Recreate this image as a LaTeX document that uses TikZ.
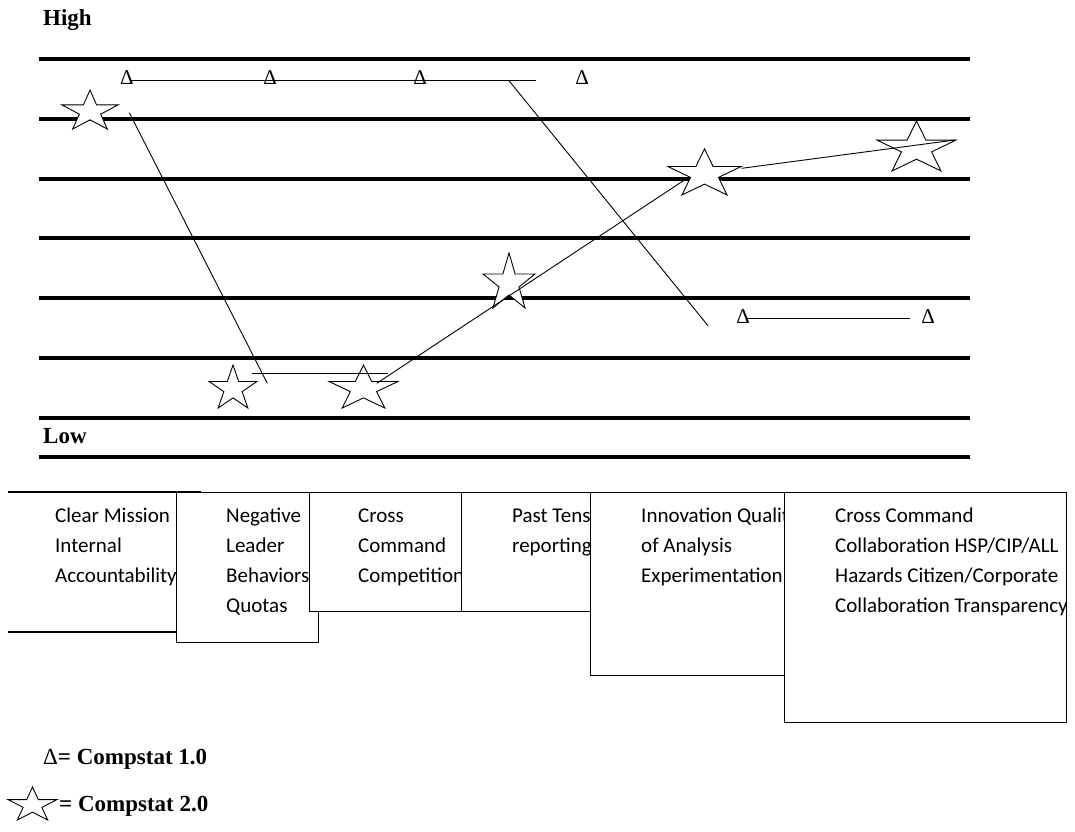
\documentclass[tikz,border=0pt]{standalone}
\usepackage{fontspec}
\setmainfont{Liberation Serif}
\newfontfamily\boxfont{Carlito}
\usetikzlibrary{shapes.geometric}

\tikzset{
  level/.style={line width=3.6pt},
  link/.style={line width=0.9pt},
  tri/.style={anchor=base, inner sep=0pt, font=\fontsize{21}{25}\selectfont},
  starmark/.style={star, star points=5, star point ratio=2.618, draw, fill=white,
    line width=0.9pt, inner sep=0pt, transform shape},
  panel/.style={draw, fill=white, line width=1.1pt, anchor=north west, inner sep=0pt},
  paneltext/.style={anchor=base west, inner sep=0pt, font=\boxfont\fontsize{21}{30}\selectfont},
  title/.style={anchor=base west, inner sep=0pt, font=\fontsize{23}{27}\selectfont\bfseries}
}

\begin{document}
\begin{tikzpicture}[x=1pt, y=-1pt]
    \useasboundingbox (0,0) rectangle (1075,831);

    % scale
    \node[title] (high) at (43,25) {High};
    \node[title] (low) at (43,443) {Low};
    \draw[level] (39,59) -- (970,59);
    \draw[level] (39,119) -- (970,119);
    \draw[level] (39,179) -- (970,179);
    \draw[level] (39,238) -- (970,238);
    \draw[level] (39,298) -- (970,298);
    \draw[level] (39,358) -- (970,358);
    \draw[level] (39,418) -- (970,418);
    \draw[level] (39,457) -- (970,457);

    % compstat 1.0
    \node[tri] (t1) at (127,84) {Δ};
    \node[tri] (t2) at (270,84) {Δ};
    \node[tri] (t3) at (420,84) {Δ};
    \node[tri] (t4) at (582,84) {Δ};
    \node[tri] (t5) at (743,323) {Δ};
    \node[tri] (t6) at (928,323) {Δ};

    \coordinate (top1) at (131,80.7);
    \coordinate (top2) at (536,80.7);
    \coordinate (drop1) at (509,80.7);
    \coordinate (drop2) at (708,325.7);
    \coordinate (low1) at (746,318.3);
    \coordinate (low2) at (910,318.3);
    \draw[link] (top1) -- (top2);
    \draw[link] (drop1) -- (drop2);
    \draw[link] (low1) -- (low2);

    % compstat 2.0
    \node[starmark, minimum size=43.1pt, xscale=1.366] (s1) at (90,111.6) {};
    \node[starmark, minimum size=47.5pt, xscale=1.062] (s2) at (233,388.8) {};
    \node[starmark, minimum size=47.5pt, xscale=1.526] (s3) at (363.5,388.8) {};
    \node[starmark, minimum size=60.8pt, xscale=0.899] (s4) at (509,283.4) {};
    \node[starmark, minimum size=50.9pt, xscale=1.509] (s5) at (704.5,174.4) {};
    \node[starmark, minimum size=55.3pt, xscale=1.503] (s6) at (916.5,148.6) {};

    \coordinate (fall1) at (129.3,112.7);
    \coordinate (fall2) at (267.3,383.3);
    \coordinate (flat1) at (251.7,373.3);
    \coordinate (flat2) at (388.3,373.3);
    \coordinate (rise1) at (376.7,383.3);
    \coordinate (rise2) at (689,177);
    \coordinate (last1) at (741.7,168.3);
    \coordinate (last2) at (955,140);
    \draw[link] (fall1) -- (fall2);
    \draw[link] (flat1) -- (flat2);
    \draw[link] (rise1) -- (rise2);
    \draw[link] (last1) -- (last2);

    % boxes
    \draw[line width=1.1pt] (8,492) -| (200,632) -- (8,632);
    \node[paneltext] (m1) at (55,522) {\begin{tabular}[t]{@{}l@{}}Clear Mission\\Internal\\Accountability\end{tabular}};
    \node[panel, minimum width=142pt, minimum height=150pt] (b2) at (176,492) {};
    \node[paneltext] (m2) at (226,522) {\begin{tabular}[t]{@{}l@{}}Negative\\Leader\\Behaviors\\Quotas\end{tabular}};
    \node[panel, minimum width=152pt, minimum height=119pt] (b3) at (309,492) {};
    \node[paneltext] (m3) at (358,522) {\begin{tabular}[t]{@{}l@{}}Cross\\Command\\Competition\end{tabular}};
    \node[panel, minimum width=140pt, minimum height=119pt] (b4) at (461,492) {};
    \node[paneltext] (m4) at (512,522) {\begin{tabular}[t]{@{}l@{}}Past Tense\\reporting\end{tabular}};
    \node[panel, minimum width=210pt, minimum height=183pt] (b5) at (590,492) {};
    \node[paneltext] (m5) at (641,522) {\begin{tabular}[t]{@{}l@{}}Innovation Quality\\of Analysis\\Experimentation\end{tabular}};
    \node[panel, minimum width=282pt, minimum height=230pt] (b6) at (784,492) {};
    \node[paneltext] (m6) at (835,522) {\begin{tabular}[t]{@{}l@{}}Cross Command\\Collaboration HSP/CIP/ALL\\Hazards Citizen/Corporate\\Collaboration Transparency\end{tabular}};

    % legend
    \node[title] (key1) at (43,764) {{\mdseries Δ}= Compstat 1.0};
    \node[starmark, minimum size=36.5pt, xscale=1.412] (key2star) at (32.5,805.2) {};
    \node[title] (key2) at (59,811) {= Compstat 2.0};
\end{tikzpicture}
\end{document}
